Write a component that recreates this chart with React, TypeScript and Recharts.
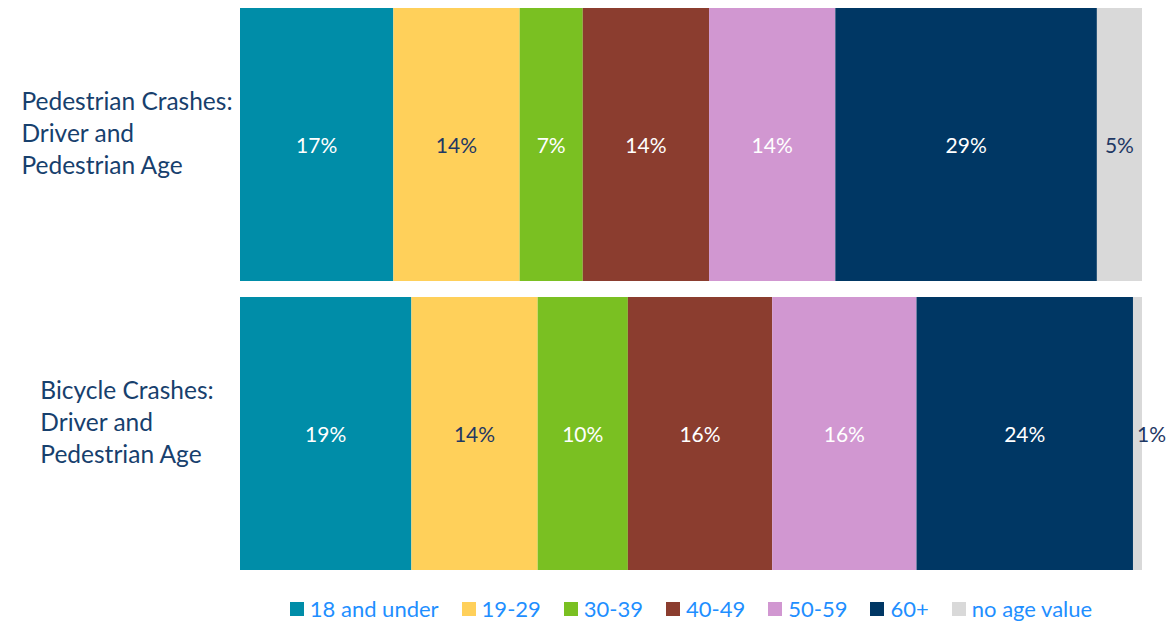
import { BarChart, Bar, XAxis, YAxis, Legend, LabelList } from 'recharts';

const categories = [
  'Pedestrian Crashes: Driver and Pedestrian Age',
  'Bicycle Crashes: Driver and Pedestrian Age',
];
const ageGroups = ['18 and under', '19-29', '30-39', '40-49', '50-59', '60+', 'no age value'];
const pedestrianShares = [17, 14, 7, 14, 14, 29, 5];
const bicycleShares = [19, 14, 10, 16, 16, 24, 1];

const seriesColors = ['#008DA8', '#FFD05A', '#7AC022', '#8B3D2F', '#D197D1', '#003764', '#D9D9D9'];
// dark text on light fills, white elsewhere
const labelColors = ['#FFFFFF', '#1F3864', '#FFFFFF', '#FFFFFF', '#FFFFFF', '#FFFFFF', '#1F3864'];

const FONT = 'Lato, "Open Sans", sans-serif';
const AXIS_FONT_SIZE = 24.5;
const LABEL_CENTER_X = 127;

const shares = [pedestrianShares, bicycleShares];
const data = categories.map((category, i) => {
  const row: Record<string, string | number> = { category };
  ageGroups.forEach((_, k) => {
    row['s' + k] = shares[i][k];
  });
  return row;
});

let ctx: CanvasRenderingContext2D | null = null;
function textWidth(s: string, font: string) {
  if (!ctx) ctx = document.createElement('canvas').getContext('2d');
  if (!ctx) return s.length * 10;
  ctx.font = font;
  return ctx.measureText(s).width;
}

function wrapText(text: string, maxWidth: number, font: string) {
  const words = text.split(' ');
  const lines: string[] = [];
  let cur = '';
  words.forEach((w) => {
    const next = cur ? cur + ' ' + w : w;
    if (cur && textWidth(next, font) > maxWidth) {
      lines.push(cur);
      cur = w;
    } else {
      cur = next;
    }
  });
  if (cur) lines.push(cur);
  return lines;
}

function CategoryTick({ y, payload }: any) {
  const font = `${AXIS_FONT_SIZE}px Lato`;
  const lines = wrapText(String(payload.value), 222, font);
  const maxW = Math.max(...lines.map((l) => textWidth(l, font)));
  const left = LABEL_CENTER_X - maxW / 2;
  const lineH = 32;
  const startY = y - ((lines.length - 1) * lineH) / 2 - 13;
  return (
    <text
      fontFamily={FONT}
      fontSize={AXIS_FONT_SIZE}
      fill="#17406D"
      dominantBaseline="central"
    >
      {lines.map((l, i) => (
        <tspan key={i} x={left} y={startY + i * lineH}>
          {l}
        </tspan>
      ))}
    </text>
  );
}

function makeLabel(color: string) {
  return (props: any) => {
    const { x, y, width, height, value } = props;
    const narrow = width < 20;
    return (
      <text
        x={narrow ? x + 4 : x + width / 2}
        y={y + height / 2}
        textAnchor={narrow ? 'start' : 'middle'}
        dominantBaseline="central"
        fontFamily={FONT}
        fontSize={21}
        fill={narrow ? '#1F3864' : color}
      >
        {value}%
      </text>
    );
  };
}

function LegendContent() {
  return (
    <div
      style={{
        display: 'flex',
        justifyContent: 'center',
        alignItems: 'center',
        gap: 23,
        fontFamily: FONT,
        fontSize: 22,
        lineHeight: '24px',
        color: '#1F8FFF',
      }}
    >
      {ageGroups.map((g, i) => (
        <div key={g} style={{ display: 'flex', alignItems: 'center', gap: 6 }}>
          <span
            style={{ width: 14, height: 14, background: seriesColors[i], display: 'inline-block' }}
          />
          <span>{g}</span>
        </div>
      ))}
    </div>
  );
}

export default function App() {
  return (
    <div style={{ position: 'absolute', left: 0, top: 0, background: '#fff' }}>
      <BarChart
        width={1173}
        height={622}
        data={data}
        layout="vertical"
        margin={{ top: 0, right: 31, left: 0, bottom: 20 }}
        barCategoryGap={8}
      >
        <XAxis type="number" domain={[0, 100]} hide />
        <YAxis
          type="category"
          dataKey="category"
          width={240}
          axisLine={false}
          tickLine={false}
          tick={(p: any) => <CategoryTick {...p} />}
        />
        <Legend
          verticalAlign="bottom"
          content={() => <LegendContent />}
          wrapperStyle={{ left: 240, width: 902, bottom: 1 }}
        />
        {ageGroups.map((g, i) => (
          <Bar
            key={g}
            dataKey={'s' + i}
            name={g}
            stackId="a"
            fill={seriesColors[i]}
            isAnimationActive={false}
          >
            <LabelList dataKey={'s' + i} content={makeLabel(labelColors[i])} />
          </Bar>
        ))}
      </BarChart>
    </div>
  );
}
